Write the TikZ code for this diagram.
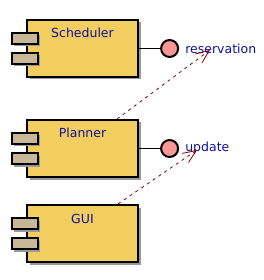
\documentclass[tikz,border=0pt]{standalone}
\usepackage{fontspec}
\setmainfont{DejaVu Sans}
\usetikzlibrary{arrows.meta,positioning,shadows}

\definecolor{compyellow}{RGB}{242,206,96}
\definecolor{porttan}{RGB}{200,184,152}
\definecolor{ifacepink}{RGB}{250,150,150}
\definecolor{labelblue}{RGB}{16,16,150}
\definecolor{depred}{RGB}{128,0,0}

\begin{document}
\begin{tikzpicture}[
  x=1pt, y=-1pt,
  font=\fontsize{12.5}{14}\selectfont,
  comp/.style={draw, line width=2.2pt, fill=compyellow, text=labelblue,
               minimum width=111pt, minimum height=57pt, inner ysep=0pt,
               text height=18pt, text depth=39pt,
               drop shadow={shadow xshift=2.5pt, shadow yshift=-2.5pt,
                            fill=black!40, opacity=1}},
  port/.style={draw, line width=2.2pt, fill=porttan, inner sep=0pt,
               minimum width=26pt, minimum height=11pt,
               drop shadow={shadow xshift=2.5pt, shadow yshift=-2.5pt,
                            fill=black!40, opacity=1}},
  iface/.style={circle, draw, line width=2pt, fill=ifacepink,
                minimum size=17pt, inner sep=0pt},
  ifacelbl/.style={text=labelblue, inner sep=1pt},
  dep/.style={draw=depred, thick, dash pattern=on 3pt off 4pt,
              -{Straight Barb[length=13pt, width=11pt]}}
]
\useasboundingbox (0,0) rectangle (263,280);
% components with their two ports
\foreach \n/\t/\y in {sched/Scheduler/48.5, plan/Planner/148.5, gui/GUI/233.5}{
  \node[comp] (\n) at (82.5,\y) {\t};
  \node[port] (\n-a) at ([xshift=-1pt, yshift=10pt]\n.west) {};
  \node[port] (\n-b) at ([xshift=-1pt, yshift=-10pt]\n.west) {};
}
% provided interfaces
\node[iface, right=21pt of sched] (resv) {};
\node[ifacelbl, right=5pt of resv] (resv-lbl) {reservation};
\node[iface, right=21pt of plan] (upd) {};
\node[ifacelbl, right=5pt of upd] (upd-lbl) {update};
\draw[line width=1pt] (sched) -- (resv);
\draw[line width=1pt] (plan) -- (upd);
% dependencies
\coordinate (resv-end) at (210,50);
\coordinate (upd-end) at (197,150);
\draw[dep] ([xshift=-22pt]plan.north east) -- (resv-end);
\draw[dep] ([xshift=-21pt]gui.north east) -- (upd-end);
\end{tikzpicture}
\end{document}
